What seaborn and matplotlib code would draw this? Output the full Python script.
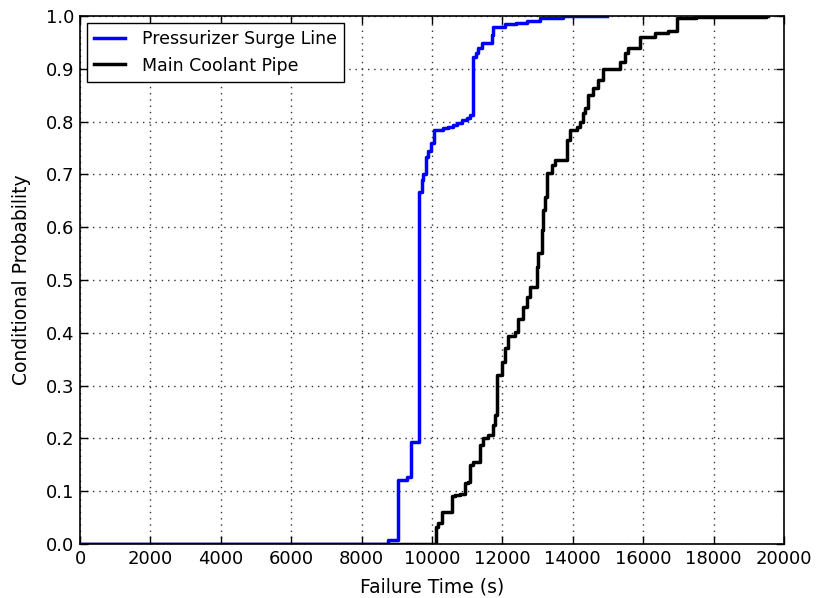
import numpy as np
import pandas as pd
import matplotlib
matplotlib.use("Agg")
import matplotlib.pyplot as plt
import seaborn as sns

# Pressurizer Surge Line empirical CDF (step points)
surge_x = [0, 8760, 9045, 9280, 9390, 9640, 9705, 9750, 9830, 9900, 9960, 10060, 10300,
           10460, 10600, 10700, 10840, 10985, 11080, 11170, 11250, 11320, 11410, 11695,
           11740, 12070, 12400, 12690, 13070, 13730, 14960]
surge_y = [0.0, 0.008, 0.121, 0.127, 0.194, 0.667, 0.689, 0.70, 0.733, 0.745, 0.760, 0.784,
           0.787, 0.790, 0.794, 0.797, 0.803, 0.806, 0.813, 0.923, 0.930, 0.940, 0.949,
           0.964, 0.980, 0.984, 0.987, 0.990, 0.996, 1.0, 1.0]

# Main Coolant Pipe empirical CDF (step points)
pipe_x = [0, 10115, 10180, 10275, 10560, 10650, 10795, 10940, 11030, 11080, 11170, 11360,
          11455, 11600, 11740, 11790, 11840, 11980, 12075, 12170, 12360, 12450, 12595,
          12690, 12785, 12970, 13020, 13115, 13160, 13210, 13260, 13400, 13495, 13825,
          13920, 14110, 14200, 14300, 14345, 14440, 14580, 14725, 14865, 15340, 15480,
          15580, 15910, 16335, 16710, 16950, 17500, 18500, 19500, 19550]
pipe_y = [0.0, 0.033, 0.040, 0.061, 0.091, 0.093, 0.095, 0.115, 0.118, 0.150, 0.156, 0.1875,
          0.200, 0.206, 0.225, 0.245, 0.320, 0.345, 0.371, 0.393, 0.402, 0.427, 0.449,
          0.468, 0.487, 0.525, 0.551, 0.595, 0.633, 0.658, 0.702, 0.718, 0.727, 0.765,
          0.784, 0.790, 0.800, 0.816, 0.825, 0.850, 0.863, 0.879, 0.900, 0.913, 0.929,
          0.939, 0.961, 0.968, 0.972, 0.997, 0.998, 0.999, 1.0, 1.0]

x_ticks = list(range(0, 20001, 2000))
y_ticks = [round(v * 0.1, 1) for v in range(11)]

surge = pd.DataFrame({"x": surge_x, "y": surge_y})
pipe = pd.DataFrame({"x": pipe_x, "y": pipe_y})

plt.rcParams.update({
    "font.family": ["DejaVu Sans"],
    "font.size": 13,
    "xtick.direction": "in",
    "ytick.direction": "in",
    "xtick.top": True,
    "ytick.right": True,
})

fig = plt.figure(figsize=(8.19, 5.98), dpi=100)
ax = fig.add_axes([80 / 819, 1 - 544 / 598, (784 - 80) / 819, (544 - 16) / 598])

sns.lineplot(data=surge, x="x", y="y", ax=ax, color="#0000ff", linewidth=2.5,
             drawstyle="steps-post", label="Pressurizer Surge Line", sort=False,
             estimator=None)
sns.lineplot(data=pipe, x="x", y="y", ax=ax, color="black", linewidth=2.5,
             drawstyle="steps-post", label="Main Coolant Pipe", sort=False,
             estimator=None)

ax.set_xlim(0, 20000)
ax.set_ylim(0, 1.0)
ax.set_xticks(x_ticks)
ax.set_yticks(y_ticks)
ax.set_xticklabels([str(t) for t in x_ticks])
ax.set_yticklabels([f"{t:.1f}" for t in y_ticks])
ax.grid(True, color="0.2", linestyle=(0, (1, 3.5)), linewidth=1.0)
ax.tick_params(length=6, width=1, labelsize=13, pad=4)
for s in ax.spines.values():
    s.set_color("black")
    s.set_linewidth(1.2)
ax.set_xlabel("Failure Time (s)", fontsize=13.5, labelpad=7)
ax.set_ylabel("Conditional Probability", fontsize=13.5, labelpad=11)

leg = ax.legend(loc="upper left", fancybox=False, edgecolor="black", fontsize=12.5,
                handlelength=1.8, handletextpad=1.0, borderaxespad=0.4, framealpha=1)
leg.get_frame().set_linewidth(1)

fig.savefig("out.png", dpi=100)
